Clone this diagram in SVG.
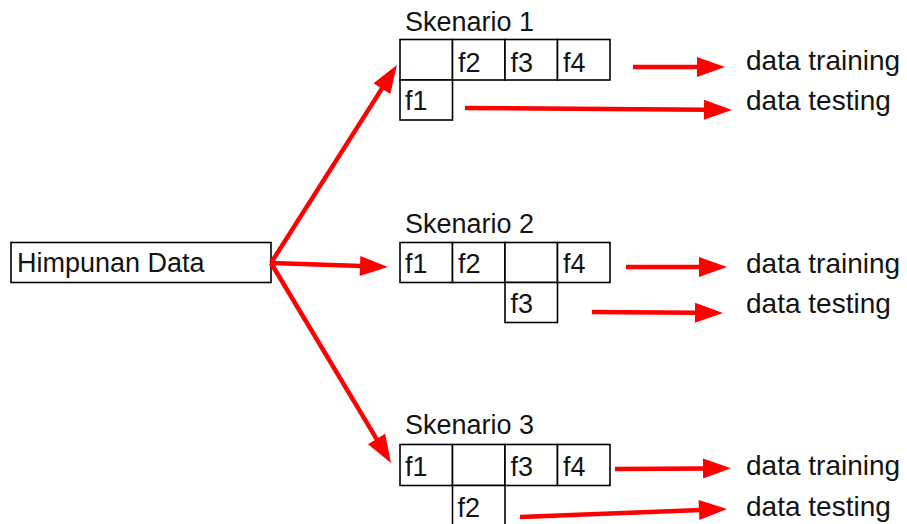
<svg xmlns="http://www.w3.org/2000/svg" width="907" height="524" viewBox="0 0 907 524">
  <style>
    text { font-family: "Liberation Sans", Arial, sans-serif; font-size: 27px; fill: #141414; }
    .out { font-size: 28px; }
    .cell { fill: #ffffff; stroke: #000000; stroke-width: 1.6; }
    .arrow { fill: none; stroke: #ff0000; stroke-width: 4.5; stroke-linecap: butt; marker-end: url(#head); }
  </style>
  <defs>
    <marker id="head" markerUnits="userSpaceOnUse" markerWidth="30" markerHeight="20" refX="2" refY="10" orient="auto" overflow="visible">
      <path d="M0,0 L28,10 L0,20 Z" fill="#ff0000"/>
    </marker>
  </defs>

  <!-- source node -->
  <g id="himpunan-data">
    <rect class="cell" x="11" y="242.5" width="260" height="40"/>
    <text x="17" y="272">Himpunan Data</text>
  </g>

  <!-- scenario 1: f1 held out -->
  <g id="skenario-1">
    <text x="405" y="31">Skenario 1</text>
    <rect class="cell" x="400" y="39.5" width="52.5" height="40.5"/>
    <rect class="cell" x="452.5" y="39.5" width="52.5" height="40.5"/>
    <rect class="cell" x="505" y="39.5" width="52.5" height="40.5"/>
    <rect class="cell" x="557.5" y="39.5" width="52.5" height="40.5"/>
    <rect class="cell" x="400" y="80" width="52.5" height="40"/>
    <text x="458" y="72">f2</text>
    <text x="510.5" y="72">f3</text>
    <text x="563" y="72">f4</text>
    <text x="405" y="110">f1</text>
  </g>

  <!-- scenario 2: f3 held out -->
  <g id="skenario-2">
    <text x="405" y="233">Skenario 2</text>
    <rect class="cell" x="400" y="242.5" width="52.5" height="40"/>
    <rect class="cell" x="452.5" y="242.5" width="52.5" height="40"/>
    <rect class="cell" x="505" y="242.5" width="52.5" height="40"/>
    <rect class="cell" x="557.5" y="242.5" width="52.5" height="40"/>
    <rect class="cell" x="505" y="282.5" width="52.5" height="40"/>
    <text x="405" y="273">f1</text>
    <text x="458" y="273">f2</text>
    <text x="563" y="273">f4</text>
    <text x="510.5" y="313">f3</text>
  </g>

  <!-- scenario 3: f2 held out -->
  <g id="skenario-3">
    <text x="405" y="434">Skenario 3</text>
    <rect class="cell" x="400" y="444.5" width="52.5" height="41"/>
    <rect class="cell" x="452.5" y="444.5" width="52.5" height="41"/>
    <rect class="cell" x="505" y="444.5" width="52.5" height="41"/>
    <rect class="cell" x="557.5" y="444.5" width="52.5" height="41"/>
    <rect class="cell" x="452.5" y="485.5" width="52.5" height="45"/>
    <text x="405" y="476">f1</text>
    <text x="510.5" y="476">f3</text>
    <text x="563" y="476">f4</text>
    <text x="457.5" y="516.5">f2</text>
  </g>

  <!-- output labels -->
  <g id="labels">
    <text class="out" x="746" y="70">data training</text>
    <text class="out" x="746" y="110">data testing</text>
    <text class="out" x="746" y="273">data training</text>
    <text class="out" x="746" y="313">data testing</text>
    <text class="out" x="746" y="475">data training</text>
    <text class="out" x="746" y="516">data testing</text>
  </g>

  <!-- connectors -->
  <g id="connectors">
    <line class="arrow" x1="271" y1="263" x2="383" y2="86.9"/>
    <line class="arrow" x1="271" y1="263" x2="362" y2="266.1"/>
    <line class="arrow" x1="271" y1="263" x2="377.6" y2="440.7"/>

    <line class="arrow" x1="633" y1="67" x2="699" y2="67"/>
    <line class="arrow" x1="465" y1="108" x2="706" y2="109.8"/>

    <line class="arrow" x1="626" y1="267" x2="701" y2="267"/>
    <line class="arrow" x1="592" y1="312" x2="697" y2="312.8"/>

    <line class="arrow" x1="615" y1="469" x2="705" y2="468.5"/>
    <line class="arrow" x1="520" y1="517" x2="701" y2="510"/>
  </g>
</svg>
